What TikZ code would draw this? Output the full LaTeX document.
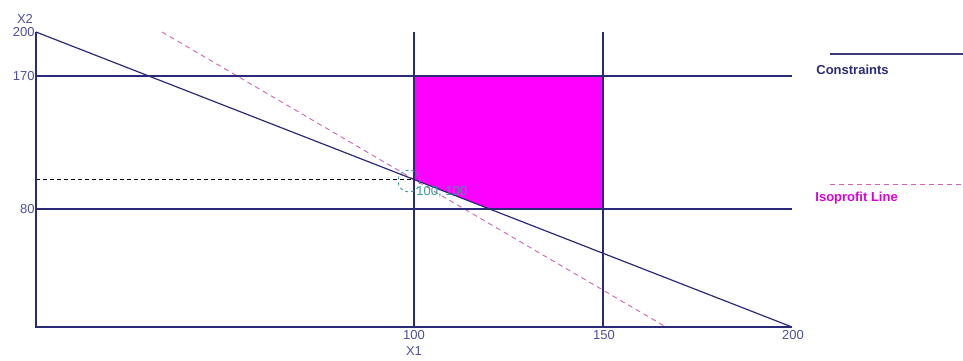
\documentclass[tikz,border=0pt]{standalone}
\usepackage{fontspec}
\setmainfont{Liberation Sans}
\definecolor{navy}{HTML}{2A2A78}
\definecolor{lbl}{HTML}{4E4E9E}
\definecolor{mag}{HTML}{FF00FF}
\definecolor{iso}{HTML}{D060B8}
\definecolor{teal2}{HTML}{3A9A9A}
\begin{document}
\begin{tikzpicture}[x=0.5pt,y=-0.5pt,
  cline/.style={draw=navy,line width=0.6pt},
  isoline/.style={draw=iso,line width=0.45pt,dash pattern=on 2.5pt off 2pt},
  axlbl/.style={text=lbl,font=\fontsize{6.5}{7}\selectfont,inner sep=0pt},
  leglbl/.style={font=\fontsize{6.5}{7}\selectfont\bfseries,inner sep=0pt,anchor=west}]
\useasboundingbox (0,0) rectangle (963,360);
% coordinates
\coordinate (O) at (36,327);
\coordinate (Y200) at (36,32);
\coordinate (X200) at (792,327);
\coordinate (P) at (414,179.5);
\coordinate (A) at (414,76);
\coordinate (B) at (603,76);
\coordinate (C) at (603,209);
\coordinate (D) at (489.6,209);
\coordinate (V1b) at (414,327);
\coordinate (V1t) at (414,32);
\coordinate (V2b) at (603,327);
\coordinate (V2t) at (603,32);
\coordinate (H1l) at (36,76);
\coordinate (H1r) at (792,76);
\coordinate (H2l) at (36,209);
\coordinate (H2r) at (792,209);
\coordinate (I1) at (162,32);
\coordinate (I2) at (666,327);
\coordinate (Dl) at (36,179.5);
% feasible region
\fill[mag] (P) -- (A) -- (B) -- (C) -- (D) -- cycle;
% dashed helper
\draw[black,line width=0.5pt,dash pattern=on 2pt off 1.5pt] (Dl) -- (P);
% isoprofit
\draw[isoline] (I1) -- (I2);
% constraints
\draw[cline] (V1b) -- (V1t);
\draw[cline] (V2b) -- (V2t);
\draw[cline] (H1l) -- (H1r);
\draw[cline] (H2l) -- (H2r);
\draw[cline] (Y200) -- (X200);
\draw[navy,line width=0.8pt] (P) -- (A);
% axes
\draw[cline] (Y200) -- (O) -- (X200);
% circle and point label
\draw[teal2,line width=0.45pt,dash pattern=on 1.5pt off 1.5pt] (409,181) circle[radius=11];
\node[axlbl,text=teal2,anchor=west] (pl) at (416,192) {100, 100};
% axis labels
\node[axlbl] (x2) at (25,19) {X2};
\node[axlbl,anchor=east] (l200) at (35,32) {200};
\node[axlbl,anchor=east] (l170) at (35,76) {170};
\node[axlbl,anchor=east] (l80) at (35,209) {80};
\node[axlbl] (b100) at (414,335) {100};
\node[axlbl] (b150) at (604,335) {150};
\node[axlbl] (b200) at (793,335) {200};
\node[axlbl] (x1) at (414,351) {X1};
% legend
\coordinate (L1a) at (830,54);
\coordinate (L1b) at (963,54);
\draw[draw=navy!80!gray,line width=0.6pt] (L1a) -- (L1b);
\node[leglbl,text=navy] (lc) at (816,70) {Constraints};
\coordinate (L2a) at (830,184);
\coordinate (L2b) at (963,184);
\draw[isoline] (L2a) -- (L2b);
\node[leglbl,text=mag!85!black] (li) at (815,198) {Isoprofit Line};
\end{tikzpicture}
\end{document}
